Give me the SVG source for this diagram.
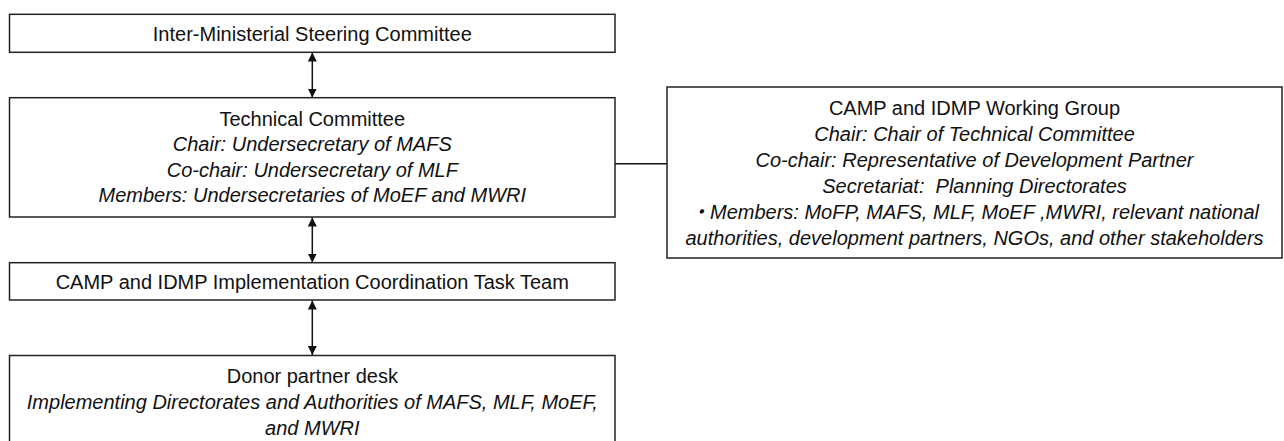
<svg xmlns="http://www.w3.org/2000/svg" width="1284" height="441" viewBox="0 0 1284 441">
  <style>
    .box { fill: #ffffff; stroke: #222222; stroke-width: 1.5; }
    .t { font-family: "Liberation Sans", Arial, sans-serif; font-size: 20px; fill: #111111; text-anchor: middle; }
    .i { font-style: italic; }
    .conn { stroke: #111111; stroke-width: 1.5; fill: none; }
  </style>
  <defs>
    <marker id="ah" viewBox="0 0 10 10" refX="10" refY="5" markerWidth="9" markerHeight="10" markerUnits="userSpaceOnUse" orient="auto-start-reverse">
      <path d="M0,0 L10,5 L0,10 z" fill="#111111"/>
    </marker>
  </defs>
  <rect width="1284" height="441" fill="#ffffff"/>

  <g id="connectors">
    <line class="conn" x1="312.3" y1="52.5" x2="312.3" y2="97.5" marker-start="url(#ah)" marker-end="url(#ah)"/>
    <line class="conn" x1="312.3" y1="217.5" x2="312.3" y2="262.5" marker-start="url(#ah)" marker-end="url(#ah)"/>
    <line class="conn" x1="312.3" y1="300.5" x2="312.3" y2="355" marker-start="url(#ah)" marker-end="url(#ah)"/>
    <line class="conn" x1="615" y1="163.7" x2="667" y2="163.7"/>
  </g>

  <g id="steering">
    <rect class="box" x="9.5" y="14.3" width="605.5" height="38"/>
    <text class="t" x="312.3" y="40.5">Inter-Ministerial Steering Committee</text>
  </g>

  <g id="technical">
    <rect class="box" x="9.5" y="97.7" width="605.5" height="119.3"/>
    <text class="t" x="312.3" y="125.5">Technical Committee</text>
    <text class="t i" x="312.3" y="151">Chair: Undersecretary of MAFS</text>
    <text class="t i" x="312.3" y="176.5">Co-chair: Undersecretary of MLF</text>
    <text class="t i" x="312.3" y="202">Members: Undersecretaries of MoEF and MWRI</text>
  </g>

  <g id="working-group">
    <rect class="box" x="667" y="87" width="615" height="171"/>
    <text class="t" x="974.5" y="114.5">CAMP and IDMP Working Group</text>
    <text class="t i" x="974.5" y="140.5">Chair: Chair of Technical Committee</text>
    <text class="t i" x="974.5" y="166.5">Co-chair: Representative of Development Partner</text>
    <text class="t i" x="974.5" y="192.5" xml:space="preserve">Secretariat:  Planning Directorates</text>
    <text class="t i" x="974.5" y="218.5" style="font-family: 'Liberation Sans', 'Noto Sans CJK JP', sans-serif;">・Members: MoFP, MAFS, MLF, MoEF ,MWRI, relevant national</text>
    <text class="t i" x="974.5" y="244.5">authorities, development partners, NGOs, and other stakeholders</text>
  </g>

  <g id="task-team">
    <rect class="box" x="9.5" y="262.7" width="605.5" height="37.3"/>
    <text class="t" x="312.3" y="288.5">CAMP and IDMP Implementation Coordination Task Team</text>
  </g>

  <g id="donor-desk">
    <rect class="box" x="9.5" y="355.5" width="605.5" height="110"/>
    <text class="t" x="312.3" y="382.5">Donor partner desk</text>
    <text class="t i" x="312.3" y="408.5">Implementing Directorates and Authorities of MAFS, MLF, MoEF,</text>
    <text class="t i" x="312.3" y="434.5">and MWRI</text>
  </g>
</svg>
